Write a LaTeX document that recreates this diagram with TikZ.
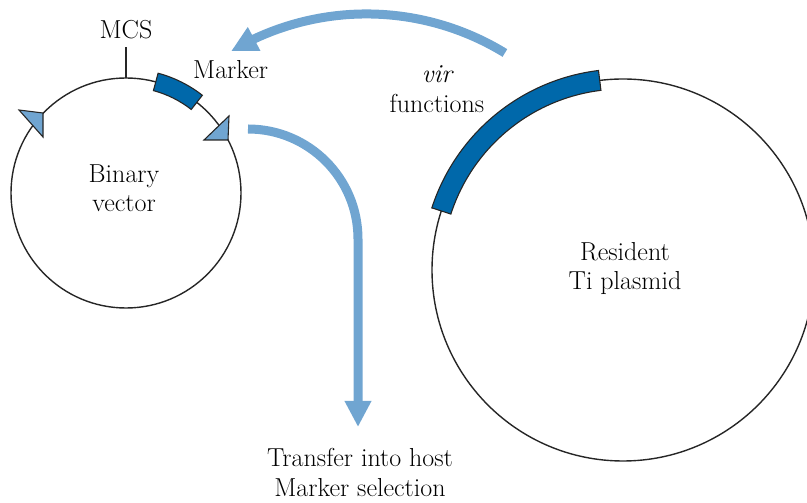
\documentclass[tikz,border=0pt]{standalone}
\usepackage{fontspec}
\usetikzlibrary{arrows.meta,bending}
\definecolor{flowblue}{HTML}{70A5D1}
\definecolor{geneblue}{HTML}{0068AA}
\tikzset{
  lbl/.style={font=\rmfamily\fontsize{26}{30}\selectfont, inner sep=0pt, anchor=base},
  plasmid/.style={draw=black!85, line width=1.4pt},
  gene/.style={draw=black!85, line width=1.1pt, fill=geneblue},
  border/.style={draw=black!85, line width=1.1pt, fill=flowblue, line join=miter},
  flow/.style={draw=flowblue, line width=9pt,
    -{Triangle[length=26pt,width=25pt,flex]}},
}
\begin{document}
\begin{tikzpicture}[x=1pt,y=1pt]
\useasboundingbox (0,0) rectangle (807,503);

% circle centres
\coordinate (bv) at (126,310);
\coordinate (ti) at (623,233);

% plasmid backbones
\draw[plasmid] (bv) circle[radius=115];
\draw[plasmid] (ti) circle[radius=191];

% MCS tick
\coordinate (mcsfoot) at (126,425);
\coordinate (mcstop) at (126,456);
\draw[line width=1.1pt, black!85] (mcsfoot) -- (mcstop);

% marker gene on the binary vector
\draw[gene, shift={(bv)}] (52:106) arc[start angle=52,end angle=75,radius=106]
  -- (75:124) arc[start angle=75,end angle=52,radius=124] -- cycle;

% vir region on the Ti plasmid
\draw[gene, shift={(ti)}] (97:181) arc[start angle=97,end angle=162,radius=181]
  -- (162:201) arc[start angle=162,end angle=97,radius=201] -- cycle;

% T-DNA borders
\draw[border] (19,393) -- (43,390) -- (43,366) -- cycle;
\draw[border] (229,387) -- (228,363) -- (204,363) -- cycle;

% vir functions acting in trans
\coordinate (virsrc) at (504.9,450);
\draw[flow] (virsrc) arc[start angle=58.5,end angle=120.7,radius=265];

% transfer of the binary vector
\coordinate (bvout) at (248,374);
\coordinate (hostin) at (358,76);
\draw[flow] (bvout) arc[start angle=90,end angle=0,radius=110] -- (hostin);

% labels
\node[lbl] (mcs) at (126,464) {MCS};
\node[lbl, anchor=base west] (marker) at (193,424) {Marker};
\node[lbl] (vir) at (437,420) {\itshape vir};
\node[lbl] (func) at (437,390) {functions};
\node[lbl] (binary) at (124,320) {Binary};
\node[lbl] (vector) at (124,291) {vector};
\node[lbl] (resident) at (625,242) {Resident};
\node[lbl] (tiplasmid) at (625,213) {Ti plasmid};
\node[lbl] (transfer) at (360,36) {Transfer into host};
\node[lbl] (selection) at (360,6) {Marker selection};
\end{tikzpicture}
\end{document}
